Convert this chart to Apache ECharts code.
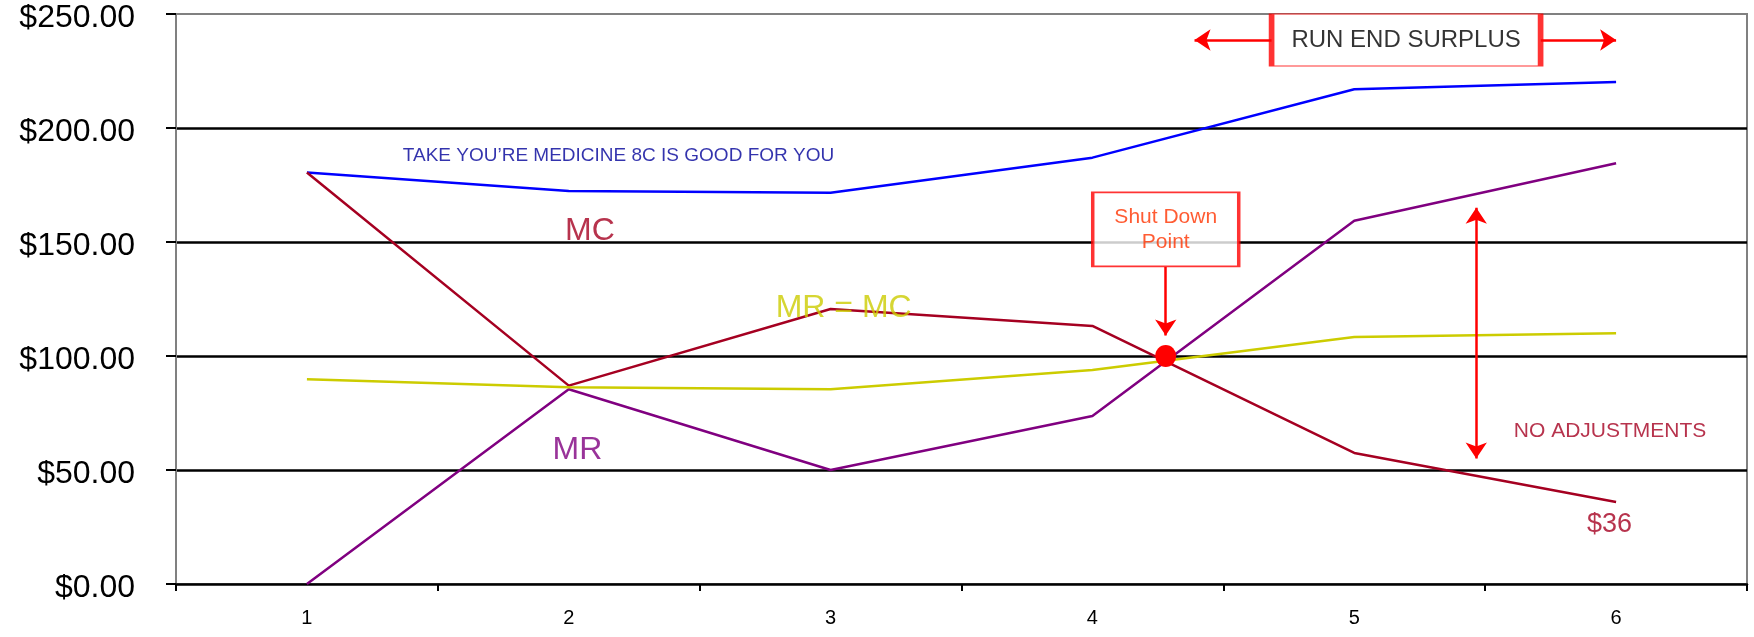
<!DOCTYPE html>
<html>
<head>
<meta charset="utf-8">
<script src="https://cdn.jsdelivr.net/npm/echarts@6/dist/echarts.min.js"></script>
<style>
  html, body { margin: 0; padding: 0; background: #fff; }
  #chart { width: 1754px; height: 637px; }
</style>
</head>
<body>
<div id="chart"></div>
<script>
// Quantity levels along the bottom axis
const categories = ['1', '2', '3', '4', '5', '6'];
// Dollar ticks on the left axis
const yTicks = [0, 50, 100, 150, 200, 250];

// Series values in dollars
const priceLine = [180.5, 172.4, 171.6, 187.0, 217.0, 220.2];
const mcValues = [180.5, 87.0, 120.6, 113.2, 57.5, 36.0];
const mrValues = [0.0, 85.4, 50.0, 73.7, 159.3, 184.5];
const avgValues = [89.8, 86.3, 85.4, 93.9, 108.3, 110.0];

// Annotation anchors in data units (x on a 0.5..6.5 scale, y in dollars)
const shutDownPoint = [4.28, 100];
const shutDownBox = [4.28, 155.5];
const shutDownArrow = [[4.28, 139], [4.28, 109]];
const runEndBox = [5.198, 238.6];
const runEndLeftArrow = [[4.685, 238.6], [4.39, 238.6]];
const runEndRightArrow = [[5.712, 238.6], [6.0, 238.6]];
const adjustArrow = [[5.466, 165], [5.466, 55]];

const notes = [
  { text: 'TAKE YOU\u2019RE MEDICINE 8C IS GOOD FOR YOU', at: [2.19, 188], color: '#000099', size: 19 },
  { text: 'MC', at: [2.081, 154.6], color: '#A50021', size: 32 },
  { text: 'MR = MC', at: [3.05, 121], color: '#CCCC00', size: 32 },
  { text: 'MR', at: [2.033, 58.8], color: '#800080', size: 32 },
  { text: 'NO ADJUSTMENTS', at: [5.977, 67], color: '#A50021', size: 21 },
  { text: '$36', at: [5.975, 25.9], color: '#A50021', size: 27 }
];

const FONT = '"Liberation Sans", Arial, sans-serif';
const chart = echarts.init(document.getElementById('chart'), null, { renderer: 'canvas' });

function lineSeries(name, data, color) {
  return {
    name: name,
    type: 'line',
    data: data,
    xAxisIndex: 0,
    yAxisIndex: 0,
    showSymbol: false,
    symbol: 'none',
    animation: false,
    lineStyle: { color: color, width: 2.5 },
    z: 3
  };
}

function arrowSeries(coords, symbols) {
  return {
    type: 'lines',
    coordinateSystem: 'cartesian2d',
    xAxisIndex: 1,
    yAxisIndex: 0,
    symbol: symbols,
    symbolSize: 16,
    animation: false,
    lineStyle: { color: '#FF0000', width: 2.5, opacity: 1, curveness: 0 },
    data: [{ coords: coords }],
    z: 5
  };
}

const option = {
  backgroundColor: '#ffffff',
  animation: false,
  grid: {
    left: 176, right: 7, top: 14, bottom: 53,
    show: true,
    borderColor: '#808080',
    borderWidth: 2,
    backgroundColor: 'transparent'
  },
  xAxis: [
    {
      type: 'category',
      data: categories,
      boundaryGap: true,
      axisLine: { show: true, lineStyle: { color: '#000', width: 2.5 } },
      axisTick: { show: true, length: 7, lineStyle: { color: '#000', width: 2 } },
      axisLabel: { color: '#000', fontFamily: FONT, fontSize: 20, margin: 24 },
      splitLine: { show: false }
    },
    {
      type: 'value',
      min: 0.5,
      max: 6.5,
      show: false,
      splitLine: { show: false }
    }
  ],
  yAxis: {
    type: 'value',
    min: yTicks[0],
    max: yTicks[yTicks.length - 1],
    interval: 50,
    axisLine: { show: true, lineStyle: { color: '#808080', width: 2 } },
    axisTick: { show: true, length: 10, lineStyle: { color: '#000', width: 2 } },
    axisLabel: {
      color: '#000', fontFamily: FONT, fontSize: 32, margin: 41,
      formatter: v => '{v|$' + v.toFixed(2) + '}',
      rich: {
        v: { fontFamily: FONT, fontSize: 32, color: '#000', padding: [8, 0, 0, 0] }
      }
    },
    splitLine: { show: true, showMinLine: false, showMaxLine: false, lineStyle: { color: '#000', width: 2.5 } }
  },
  series: [
    lineSeries('Price', priceLine, '#0000FF'),
    lineSeries('MC', mcValues, '#A50021'),
    lineSeries('MR', mrValues, '#800080'),
    lineSeries('Average', avgValues, '#CCCC00'),
    arrowSeries(shutDownArrow, ['none', 'arrow']),
    arrowSeries(runEndLeftArrow, ['none', 'arrow']),
    arrowSeries(runEndRightArrow, ['none', 'arrow']),
    arrowSeries(adjustArrow, ['arrow', 'arrow']),
    {
      // Shut down marker
      type: 'scatter',
      xAxisIndex: 1,
      yAxisIndex: 0,
      symbol: 'circle',
      symbolSize: [21, 22],
      itemStyle: { color: '#FF0000', opacity: 1 },
      data: [shutDownPoint],
      z: 6
    },
    {
      // Boxed callouts
      type: 'scatter',
      xAxisIndex: 1,
      yAxisIndex: 0,
      symbol: 'rect',
      z: 6,
      data: [
        {
          value: shutDownBox,
          symbolSize: [146, 74],
          itemStyle: { color: '#fff', borderColor: '#FF0000', borderWidth: 2.5 },
          label: {
            show: true, position: 'inside', formatter: 'Shut Down\nPoint',
            color: '#FF3300', fontFamily: FONT, fontSize: 21, lineHeight: 25, align: 'center'
          }
        },
        {
          value: runEndBox,
          symbolSize: [269, 52],
          itemStyle: { color: '#fff', borderColor: '#FF0000', borderWidth: 2.5 },
          label: {
            show: true, position: 'inside', formatter: 'RUN END SURPLUS',
            color: '#000', fontFamily: FONT, fontSize: 24
          }
        }
      ]
    },
    {
      // Free text notes
      type: 'scatter',
      xAxisIndex: 1,
      yAxisIndex: 0,
      symbolSize: 0,
      z: 7,
      data: notes.map(n => ({
        value: n.at,
        label: {
          show: true, position: 'inside', formatter: n.text,
          color: n.color, fontFamily: FONT, fontSize: n.size
        }
      }))
    }
  ]
};

chart.setOption(option);
</script>
</body>
</html>
